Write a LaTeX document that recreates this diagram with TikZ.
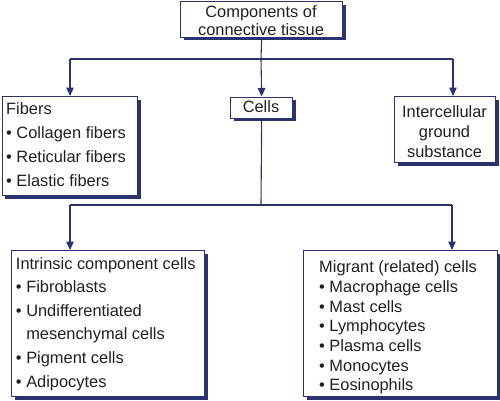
\documentclass[tikz,border=0pt]{standalone}
\usepackage{fontspec}
\setmainfont{Liberation Sans}
\usetikzlibrary{arrows.meta,shadows}
\definecolor{navy}{RGB}{42,50,112}
\definecolor{ink}{RGB}{35,31,32}
\tikzset{
  box/.style={draw=navy, line width=1.3bp, fill=white, rectangle, inner sep=0pt,
    drop shadow={shadow xshift=3bp, shadow yshift=-3bp, fill=navy, opacity=1}},
  conn/.style={draw=navy, line width=1.1bp},
  arr/.style={conn, -{Triangle[width=7.5bp,length=8.5bp]}},
  txt/.style={inner sep=0pt, text=ink, font=\fontsize{16.4bp}{19bp}\selectfont},
}
\newcommand{\bul}{\textbullet\ }
\newcommand{\ind}{\phantom{\textbullet\ }}
\begin{document}
\begin{tikzpicture}[x=1bp,y=-1bp]
\useasboundingbox (0,0) rectangle (500,400);
% boxes
\node[box, anchor=north west, minimum width=162bp, minimum height=35.5bp] (top) at (180,1) {};
\node[box, anchor=north west, minimum width=135.5bp, minimum height=99bp] (fibers) at (1.5,96) {};
\node[box, anchor=north west, minimum width=62bp, minimum height=21bp] (cells) at (230,96.5) {};
\node[box, anchor=north west, minimum width=101bp, minimum height=66bp] (inter) at (394,96) {};
\node[box, anchor=north west, minimum width=193bp, minimum height=146bp] (intr) at (11,250) {};
\node[box, anchor=north west, minimum width=194bp, minimum height=146bp] (migr) at (303,250) {};
% texts
\node[txt, anchor=base] (t1) at (261,17) {Components of};
\node[txt, anchor=base] (t2) at (261,35) {connective tissue};
\node[txt, anchor=base west] (f0) at (6,114) {Fibers};
\node[txt, anchor=base west] (f1) at (6,138.5) {\bul Collagen fibers};
\node[txt, anchor=base west] (f2) at (6,162.5) {\bul Reticular fibers};
\node[txt, anchor=base west] (f3) at (6,186.5) {\bul Elastic fibers};
\node[txt, anchor=base] (c0) at (261,112) {Cells};
\node[txt, anchor=base] (i0) at (444.5,117) {Intercellular};
\node[txt, anchor=base] (i1) at (444.5,137) {ground};
\node[txt, anchor=base] (i2) at (444.5,157) {substance};
\node[txt, anchor=base west] (n0) at (15.8,269) {Intrinsic component cells};
\node[txt, anchor=base west] (n1) at (15.8,292.6) {\bul Fibroblasts};
\node[txt, anchor=base west] (n2) at (15.8,316.2) {\bul Undifferentiated};
\node[txt, anchor=base west] (n3) at (15.8,339.8) {\ind mesenchymal cells};
\node[txt, anchor=base west] (n4) at (15.8,363.4) {\bul Pigment cells};
\node[txt, anchor=base west] (n5) at (15.8,387) {\bul Adipocytes};
\node[txt, anchor=base west] (m0) at (319,272) {Migrant (related) cells};
\node[txt, anchor=base west] (m1) at (319,292) {\bul Macrophage cells};
\node[txt, anchor=base west] (m2) at (319,312) {\bul Mast cells};
\node[txt, anchor=base west] (m3) at (319,331.5) {\bul Lymphocytes};
\node[txt, anchor=base west] (m4) at (319,351.5) {\bul Plasma cells};
\node[txt, anchor=base west] (m5) at (319,371) {\bul Monocytes};
\node[txt, anchor=base west] (m6) at (319,390) {\bul Eosinophils};
% connectors
\coordinate (jA) at (261,59);
\coordinate (lA) at (70,59);
\coordinate (rA) at (453,59);
\draw[conn] (top.south) -- (jA);
\draw[conn] (lA) -- (rA);
\draw[arr] (jA) -- (cells.north);
\draw[arr] (lA) -- (lA |- fibers.north);
\draw[arr] (rA) -- (rA |- inter.north);
\coordinate (jB) at (261,205);
\coordinate (lB) at (70,205);
\coordinate (rB) at (452,205);
\draw[conn] (cells.south) -- (jB);
\draw[conn] (lB) -- (rB);
\draw[arr] (lB) -- (lB |- intr.north);
\draw[arr] (rB) -- (rB |- migr.north);
\end{tikzpicture}
\end{document}
